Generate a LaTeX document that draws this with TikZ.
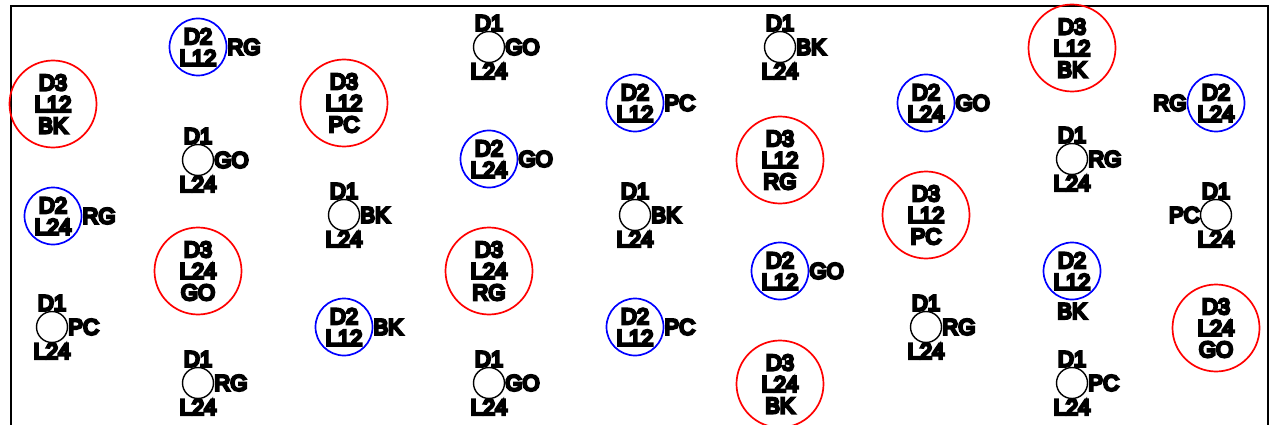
\documentclass[tikz,border=0pt]{standalone}
\usepackage{fontspec}
\setmainfont{Liberation Sans}[BoldFont=*,BoldFeatures={FakeBold=12}]
\usepackage{tikz}
\usetikzlibrary{shapes,positioning}
\tikzset{every node/.style={font=\bfseries\fontsize{22}{21.5}\selectfont,inner sep=0pt}}
\tikzset{dthree/.style={circle,draw=red,line width=1.7pt,minimum size=87pt,align=center}}
\tikzset{dtwo/.style={circle,draw=blue,line width=1.7pt,minimum size=57pt,align=center,label distance=6pt}}
\tikzset{done/.style={circle,draw,line width=1.4pt,minimum size=31pt,label distance=6pt,label=above:D1,label=below:L24}}

\begin{document}
\begin{tikzpicture}[x=1pt,y=-1pt]
    \useasboundingbox (0,0) rectangle (1274,425);
    \draw[line width=1.3pt] (11,6) rectangle (1268,432);

    \node[dthree] (bka) at (53,104) {D3\\L12\\BK};
    \node[dthree] (pca) at (344,103) {D3\\L12\\PC};
    \node[dthree] (goa) at (198,271) {D3\\L24\\GO};
    \node[dthree] (rga) at (489,271) {D3\\L24\\RG};
    \node[dthree] (rgb) at (780,160) {D3\\L12\\RG};
    \node[dthree] (bkb) at (1072,48) {D3\\L12\\BK};
    \node[dthree] (pcb) at (926,215) {D3\\L12\\PC};
    \node[dthree] (bkc) at (780,384) {D3\\L24\\BK};
    \node[dthree] (gob) at (1216,328) {D3\\L24\\GO};

    \node[dtwo,label=right:RG] (rgc) at (198,47) {D2\\L12};
    \node[dtwo,label=right:RG] (rgd) at (53,216) {D2\\L24};
    \node[dtwo,label=right:BK] (bkd) at (344,327) {D2\\L12};
    \node[dtwo,label=right:GO] (goc) at (489,159) {D2\\L24};
    \node[dtwo,label=right:PC] (pcc) at (635,103) {D2\\L12};
    \node[dtwo,label=right:PC] (pcd) at (635,327) {D2\\L12};
    \node[dtwo,label=right:GO] (god) at (780,271) {D2\\L12};
    \node[dtwo,label=right:GO] (goe) at (926,103) {D2\\L24};
    \node[dtwo,label=left:RG] (rge) at (1216,103) {D2\\L24};
    \node[dtwo,label={[label distance=3pt]below:BK}] (bke) at (1072,271) {D2\\L12};

    \node[done,label=right:GO] (gof) at (198,160) {};
    \node[done,label=right:PC] (pce) at (52,327) {};
    \node[done,label=right:RG] (rgf) at (198,383) {};
    \node[done,label=right:BK] (bkf) at (344,215) {};
    \node[done,label=right:GO] (gog) at (489,47) {};
    \node[done,label=right:GO] (goh) at (489,383) {};
    \node[done,label=right:BK] (bkg) at (635,215) {};
    \node[done,label=right:BK] (bkh) at (780,47) {};
    \node[done,label=right:RG] (rgg) at (926,327) {};
    \node[done,label=right:RG] (rgh) at (1072,159) {};
    \node[done,label=right:PC] (pcf) at (1072,383) {};
    \node[done,label=left:PC] (pcg) at (1216,215) {};
\end{tikzpicture}
\end{document}
